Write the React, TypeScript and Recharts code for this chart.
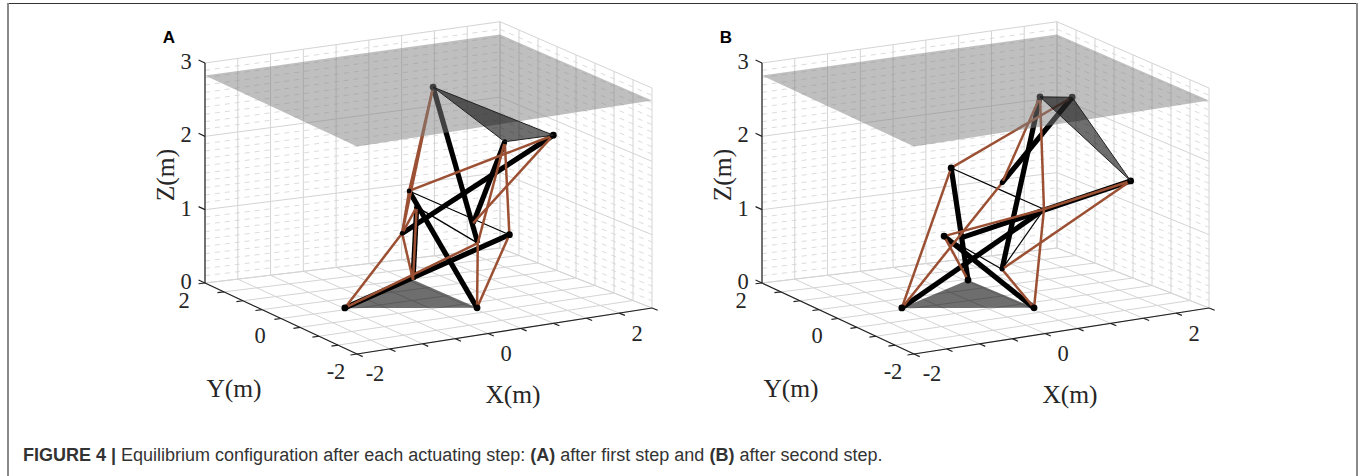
import React from "react";
import { ComposedChart, XAxis, YAxis, Line, Area, Scatter, ReferenceLine, ReferenceDot } from "recharts";

// axis ticks in metres
const xTicks = [-2, -1.5, -1, -0.5, 0, 0.5, 1, 1.5, 2, 2.5];
const yTicks = [-2, -1.5, -1, -0.5, 0, 0.5, 1, 1.5, 2];
const zTicks = [0, 1, 2, 3];
const zMinor = [0.1, 0.2, 0.3, 0.4, 0.5, 0.6, 0.7, 0.8, 0.9, 1.1, 1.2, 1.3, 1.4, 1.5, 1.6, 1.7, 1.8, 1.9, 2.1, 2.2, 2.3, 2.4, 2.5, 2.6, 2.7, 2.8, 2.9];
const xTickLabels = [-2, 0, 2];
const yTickLabels = [-2, 0, 2];
const planeZ = 2.83;

// node positions, first step
const nodeXA = [-0.98, 0.55, 0.57, 0.32, 0.95, 1.69, 0.07, 0.07, 0.08, 0.7, 0.77, 1.02];
const nodeYA = [0.08, -0.76, 0.96, 0, -0.8, -0.8, 0.2, 0, 0.4, -0.4, -0.4, -0.8];
const nodeZA = [0, 0, 0, 2.85, 2.21, 2.2, 1.43, 1.26, 0.81, 1.05, 0.77, 0.94];
const barsA = [[3, 10], [4, 9], [5, 8], [11, 0], [7, 2], [6, 1]];
const cablesA = [[0, 8], [0, 10], [1, 10], [1, 11], [2, 8], [2, 7], [8, 6], [8, 7], [3, 6], [3, 8], [6, 5], [4, 10], [4, 11], [5, 9]];
const thinA = [[6, 11], [7, 10]];
const bigDotsA = [0, 1, 3, 5, 11];
const smallDotsA = [4, 6, 7, 8];

// node positions, second step
const nodeXB = [-0.98, 0.55, 0.54, 0.85, 1.34, 2.0, 0.19, 0.27, 0.91, -0.15, -0.09, 0.27];
const nodeYB = [0.08, -0.76, 0.96, -0.4, -0.4, -0.8, 0.8, -0.4, -0.4, 0.4, 0, -0.4];
const nodeZB = [0, 0, 0, 2.74, 2.67, 1.54, 1.59, 1.65, 1.21, 0.8, 0.87, 0.48];
const barsB = [[3, 11], [4, 7], [5, 10], [6, 2], [9, 1], [0, 8]];
const cablesB = [[6, 4], [0, 7], [7, 3], [3, 8], [1, 8], [1, 11], [11, 5], [9, 8], [8, 5], [0, 6], [2, 9]];
const thinB = [[6, 8], [9, 11], [8, 11]];
const bigDotsB = [0, 1, 2, 3, 4, 5, 6, 9];
const smallDotsB = [7, 11];

const topTriangle = [3, 4, 5];
const bottomTriangle = [0, 1, 2];

const W = 680;
const H = 476;
const BROWN = "#9c5033";
const SERIF = "'Liberation Serif', serif";
const SANS = "'Liberation Sans', sans-serif";

// 3D view of the axes box down onto the chart plane
function project(X: number, Y: number, Z: number) {
  const x = (X + 2) / 4.5;
  const y = (Y + 2) / 4;
  const z = Z / 3;
  return {
    u: 357 + 295 * x - 152 * y,
    v: 354 - 46 * x - 71 * y - 220 * z + x * y * (11 - 6.3 * z),
  };
}

type P = { u: number; v: number };

function seg(a: P, b: P) {
  return [{ x: a.u, y: a.v }, { x: b.u, y: b.v }] as any;
}

// upper and lower edge of a polygon at each vertex, for a ranged Area
function band(pts: P[]) {
  const us = pts.map((p) => p.u).sort((a, b) => a - b);
  return us.map((u) => {
    const hits: number[] = [];
    pts.forEach((p, i) => {
      const q = pts[(i + 1) % pts.length];
      const lo = Math.min(p.u, q.u);
      const hi = Math.max(p.u, q.u);
      if (u >= lo && u <= hi && hi > lo) hits.push(p.v + ((u - p.u) / (q.u - p.u)) * (q.v - p.v));
    });
    return { u, range: [Math.min(...hits), Math.max(...hits)] };
  });
}

function gridLines() {
  const out: React.ReactNode[] = [];
  const major = "#d4d4d4";
  const minor = "#d2d2d2";
  const add = (key: string, a: P, b: P, stroke: string, width = 1, dash?: string) =>
    out.push(<ReferenceLine key={key} segment={seg(a, b)} stroke={stroke} strokeWidth={width} strokeDasharray={dash} ifOverflow="visible" />);

  zMinor.forEach((z) => {
    add(`ml${z}`, project(-2, 2, z), project(2.5, 2, z), minor, 0.8, "5 5");
    add(`mr${z}`, project(2.5, 2, z), project(2.5, -2, z), minor, 0.8, "5 5");
  });
  xTicks.forEach((x) => {
    add(`fx${x}`, project(x, -2, 0), project(x, 2, 0), major);
    add(`wx${x}`, project(x, 2, 0), project(x, 2, 3), major);
  });
  yTicks.forEach((y) => {
    add(`fy${y}`, project(-2, y, 0), project(2.5, y, 0), major);
    add(`wy${y}`, project(2.5, y, 0), project(2.5, y, 3), major);
  });
  zTicks.forEach((z) => {
    add(`zl${z}`, project(-2, 2, z), project(2.5, 2, z), major);
    add(`zr${z}`, project(2.5, 2, z), project(2.5, -2, z), major);
  });
  return out;
}

function axisLines() {
  const out: React.ReactNode[] = [];
  const ink = "#222";
  const add = (key: string, a: P, b: P) =>
    out.push(<ReferenceLine key={key} segment={seg(a, b)} stroke={ink} strokeWidth={1.2} ifOverflow="visible" />);
  add("axz", project(-2, 2, 0), project(-2, 2, 3));
  add("axy", project(-2, 2, 0), project(-2, -2, 0));
  add("axx", project(-2, -2, 0), project(2.5, -2, 0));
  zTicks.forEach((z) => add(`tz${z}`, project(-2, 2, z), project(-2, 2.17, z)));
  yTicks.forEach((y) => add(`ty${y}`, project(-2, y, 0), project(-2.1, y, 0)));
  xTicks.forEach((x) => add(`tx${x}`, project(x, -2, 0), project(x, -2.15, 0)));
  return out;
}

function label(key: string, u: number, v: number, text: string, size = 22.5, angle = 0, family = SERIF, weight: any = 400, fill = "#262626") {
  return (
    <ReferenceDot
      key={key}
      x={u}
      y={v}
      r={0}
      fill="none"
      stroke="none"
      ifOverflow="visible"
      label={{ value: text, position: "center", fontSize: size, fontFamily: family, fontWeight: weight, fill, angle }}
    />
  );
}

function tickLabels() {
  const out: React.ReactNode[] = [];
  zTicks.forEach((z) => {
    const p = project(-2, 2, z);
    out.push(label(`lz${z}`, p.u - 19, p.v - 2, String(z)));
  });
  yTickLabels.forEach((y) => {
    const p = project(-2, y, 0);
    out.push(label(`ly${y}`, p.u - 21, p.v + 17, String(y)));
  });
  xTickLabels.forEach((x) => {
    const p = project(x, -2, 0);
    out.push(label(`lx${x}`, p.u + 18, p.v + 19.5, String(x)));
  });
  return out;
}

// one transparent layer; a stack of these keeps the paint order of the figure
function Layer({ children }: { children: React.ReactNode }) {
  return (
    <ComposedChart width={W} height={H} margin={{ top: 0, right: 0, bottom: 0, left: 0 }} style={{ position: "absolute", left: 0, top: 0 }}>
      <XAxis type="number" dataKey="u" domain={[0, W]} hide allowDataOverflow />
      <YAxis type="number" domain={[0, H]} reversed hide allowDataOverflow />
      {children}
    </ComposedChart>
  );
}

function Panel({ name, left, nodeX, nodeY, nodeZ, bars, cables, thin, bigDots, smallDots }: any) {
  const nodes: P[] = nodeX.map((x: number, i: number) => project(x, nodeY[i], nodeZ[i]));
  const strut = (prefix: string, list: number[][], stroke: string, width: number) =>
    list.map(([a, b], i) => (
      <Line
        key={prefix + i}
        data={[nodes[a], nodes[b]]}
        dataKey="v"
        stroke={stroke}
        strokeWidth={width}
        dot={false}
        activeDot={false}
        legendType="none"
        isAnimationActive={false}
      />
    ));
  const dots = (list: number[], r: number) => (
    <Scatter
      data={list.map((i) => nodes[i])}
      dataKey="v"
      isAnimationActive={false}
      shape={(p: any) => <circle cx={p.cx} cy={p.cy} r={r} fill="#000" />}
      activeShape={(p: any) => <circle cx={p.cx} cy={p.cy} r={r} fill="#000" />}
    />
  );
  const plane = band([project(-2, 2, planeZ), project(-2, -2, planeZ), project(2.5, -2, planeZ), project(2.5, 2, planeZ)]);
  const top = topTriangle.map((i) => nodes[i]);
  const bottom = bottomTriangle.map((i) => nodes[i]);

  return (
    <div style={{ position: "absolute", left, top: 0, width: W, height: H }}>
      <Layer>
        {gridLines()}
        {axisLines()}
        {tickLabels()}
        {label("zt", 165, 175, "Z(m)", 25.5, -90)}
        {label("yt", 234, 388, "Y(m)", 25.5)}
        {label("xt", 513, 394, "X(m)", 25.5)}
        {label("letter", 169, 37, name, 17, 0, SANS, 700, "#000")}
      </Layer>
      <Layer>
        <Area data={band(bottom)} dataKey="range" type="linear" stroke="none" fill="#000" fillOpacity={0.57} dot={false} activeDot={false} isAnimationActive={false} />
      </Layer>
      <Layer>
        {dots(bigDots, 3.4)}
        {dots(smallDots, 2.4)}
        {strut("bar", bars, "#000", 5.2)}
        {strut("thin", thin, "#000", 1.2)}
        {strut("cable", cables, BROWN, 2.5)}
      </Layer>
      <Layer>
        <Area data={plane} dataKey="range" type="linear" stroke="none" fill="#808080" fillOpacity={0.5} dot={false} activeDot={false} isAnimationActive={false} />
      </Layer>
      <Layer>
        <Area data={band(top)} dataKey="range" type="linear" stroke="none" fill="#000" fillOpacity={0.57} dot={false} activeDot={false} isAnimationActive={false} />
        <Line data={[top[0], top[1], top[2], top[0]]} dataKey="v" stroke="#222" strokeWidth={1} dot={false} activeDot={false} isAnimationActive={false} />
      </Layer>
    </div>
  );
}

export default function App() {
  return (
    <div style={{ position: "absolute", left: 0, top: 0, width: 1360, height: 476, background: "#fff", overflow: "hidden" }}>
      <Panel name="A" left={0} nodeX={nodeXA} nodeY={nodeYA} nodeZ={nodeZA} bars={barsA} cables={cablesA} thin={thinA} bigDots={bigDotsA} smallDots={smallDotsA} />
      <Panel name="B" left={557} nodeX={nodeXB} nodeY={nodeYB} nodeZ={nodeZB} bars={barsB} cables={cablesB} thin={thinB} bigDots={bigDotsB} smallDots={smallDotsB} />
      <div style={{ position: "absolute", left: 7, top: 3, width: 1351, height: 1, background: "#333" }} />
      <div style={{ position: "absolute", left: 7, top: 3, width: 2, height: 473, background: "#8a8a8a" }} />
      <div style={{ position: "absolute", left: 1356, top: 3, width: 2, height: 473, background: "#8a8a8a" }} />
      <div style={{ position: "absolute", left: 23, top: 445, fontFamily: SANS, fontSize: 18, lineHeight: "20px", color: "#333", whiteSpace: "nowrap" }}>
        <b>FIGURE 4 |</b> Equilibrium configuration after each actuating step: <b>(A)</b> after first step and <b>(B)</b> after second step.
      </div>
    </div>
  );
}
